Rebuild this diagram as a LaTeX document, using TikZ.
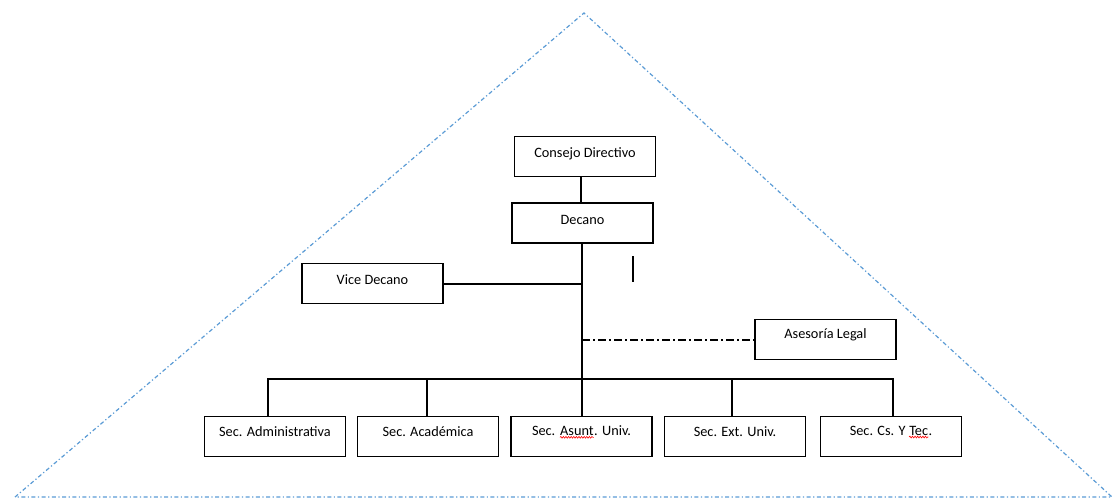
\documentclass[tikz,border=0pt]{standalone}
\usepackage{fontspec}
\setmainfont{Carlito}
\usetikzlibrary{decorations.pathmorphing}
\definecolor{tri}{RGB}{91,155,213}
\newcommand{\spellwave}[2]{\tikz[baseline=(#1.base)]{\node[inner sep=0pt,anchor=base] (#1) {#2};\draw[red,line width=0.6pt,decorate,decoration={snake,amplitude=0.9pt,segment length=2.6pt}] ([yshift=-2pt]#1.base west) -- ([yshift=-2pt]#1.base east);}}
\begin{document}
\begin{tikzpicture}[x=1pt,y=-1pt,
  orgbox/.style={draw=black,line width=1.3pt,minimum width=141pt,minimum height=40pt,inner sep=0pt},
  lbl/.style={font=\fontsize{14.3}{16}\selectfont,inner sep=0pt},
  wire/.style={draw=black,line width=1.2pt},
  tridash/.style={draw=tri,line width=1.2pt,dash pattern=on 4pt off 2.5pt on 1.2pt off 2.5pt}]
\useasboundingbox (0,0) rectangle (1112,498);
% triangle
\coordinate (apex) at (584,13);
\coordinate (bl) at (15,497);
\coordinate (br) at (1112,497);
\draw[tridash] (bl) -- (apex) -- (br) -- cycle;
% boxes
\node[orgbox] (cd) at (585,156.5) {};
\node[lbl] (cdt) at (585,154) {Consejo Directivo};
\node[orgbox] (dec) at (582.5,223) {};
\node[lbl] (dect) at (582.5,220) {Decano};
\node[orgbox] (vd) at (372.5,283.5) {};
\node[lbl] (vdt) at (372.5,279.5) {Vice Decano};
\node[orgbox] (al) at (825.5,339.5) {};
\node[lbl] (alt) at (825.5,335) {Asesoría Legal};
\node[orgbox] (s1) at (275,436.5) {};
\node[lbl] (s1t) at (275,432) {Sec. Administrativa};
\node[orgbox] (s2) at (428,436.5) {};
\node[lbl] (s2t) at (428,432) {Sec. Académica};
\node[orgbox] (s3) at (581.5,436.5) {};
\node[lbl] (s3t) at (581.5,432) {Sec. \spellwave{wa}{Asunt}. Univ.};
\node[orgbox] (s4) at (735,436.5) {};
\node[lbl] (s4t) at (735,432) {Sec. Ext. Univ.};
\node[orgbox] (s5) at (891,436.5) {};
\node[lbl] (s5t) at (891,432) {Sec. Cs. Y \spellwave{wb}{Tec}.};
% connectors
\coordinate (j1) at (582,284);
\coordinate (j2) at (582,340);
\coordinate (b1) at (268,379);
\coordinate (b5) at (893,379);
\coordinate (m1) at (633,256);
\coordinate (m2) at (633,282);
\draw[wire] (cd.south -| 581,0) -- (dec.north -| 581,0);
\draw[wire] (dec.south -| j1) -- (s3.north -| j1);
\draw[wire] (vd.east |- j1) -- (j1);
\draw[wire,dash pattern=on 8pt off 3pt on 2pt off 3pt] (j2) -- (al.west |- j2);
\draw[wire] (s1.north -| b1) -- (b1) -- (b5) -- (s5.north -| b5);
\draw[wire] (s2.north -| 427,0) -- (427,379);
\draw[wire] (s4.north -| 732,0) -- (732,379);
\draw[wire] (m1) -- (m2);
\end{tikzpicture}
\end{document}
